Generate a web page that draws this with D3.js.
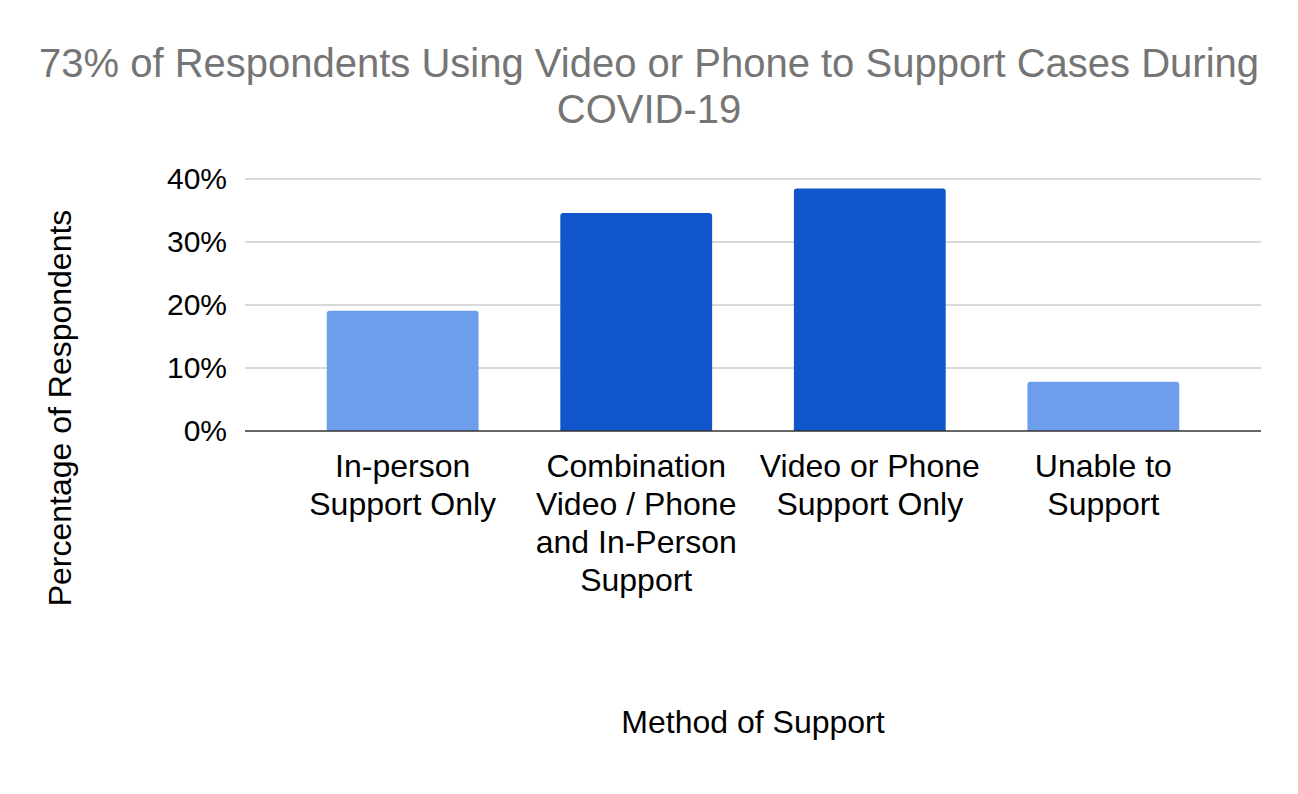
<!DOCTYPE html>
<html>
<head>
<meta charset="utf-8">
<script src="https://cdn.jsdelivr.net/npm/d3@7"></script>
<style>
  body { margin: 0; background: #fff; }
  text { font-family: "Liberation Sans", Arial, sans-serif; }
</style>
</head>
<body>
<div id="chart"></div>
<script>
// chart data
const categories = [
    ["In-person", "Support Only"],
    ["Combination", "Video / Phone", "and In-Person", "Support"],
    ["Video or Phone", "Support Only"],
    ["Unable to", "Support"]
];
const values = [19.1, 34.6, 38.5, 7.8];
const barColors = ["#6d9eeb", "#1155cc", "#1155cc", "#6d9eeb"];
const yTicks = [0, 10, 20, 30, 40];
const titleLines = ["73% of Respondents Using Video or Phone to Support Cases During", "COVID-19"];

const W = 1298, H = 794;
const margin = { top: 179, right: 37, bottom: 363, left: 245 }; // plot area bounds
const width = W - margin.left - margin.right;
const height = H - margin.top - margin.bottom;

const svg = d3.select("#chart").append("svg")
    .attr("width", W)
    .attr("height", H);

// title
svg.append("text")
    .attr("x", 649)
    .attr("y", 77)
    .attr("text-anchor", "middle")
    .attr("fill", "#757575")
    .style("font-size", "40px")
    .selectAll("tspan")
    .data(titleLines)
    .join("tspan")
    .attr("x", 649)
    .attr("dy", (d, i) => i === 0 ? 0 : 46)
    .text(d => d);

const g = svg.append("g")
    .attr("transform", `translate(${margin.left},${margin.top})`);

const x = d3.scaleBand()
    .domain(d3.range(values.length))
    .range([0, width])
    .paddingInner(0.35)
    .paddingOuter(0.35);

const y = d3.scaleLinear()
    .domain([0, 40])
    .range([height, 0]);

// gridlines
g.append("g")
    .selectAll("line")
    .data(yTicks.filter(d => d > 0))
    .join("line")
    .attr("x1", 0)
    .attr("x2", width)
    .attr("y1", d => y(d))
    .attr("y2", d => y(d))
    .attr("stroke", "#cccccc")
    .attr("stroke-width", 1.3);

// y axis labels
const yAxis = g.append("g")
    .call(d3.axisLeft(y).tickValues(yTicks).tickFormat(d => d + "%").tickSize(0).tickPadding(18));
yAxis.select(".domain").remove();
yAxis.selectAll("text")
    .attr("fill", "#000")
    .style("font-size", "30px")
    .style("font-family", "'Liberation Sans', Arial, sans-serif");

// bars with slightly rounded tops
const r = 3;
g.selectAll(".bar")
    .data(values)
    .join("path")
    .attr("class", "bar")
    .attr("fill", (d, i) => barColors[i])
    .attr("d", (d, i) => {
        const x0 = x(i), x1 = x(i) + x.bandwidth();
        const y0 = y(0), y1 = y(d);
        return `M${x0},${y0} L${x0},${y1 + r} Q${x0},${y1} ${x0 + r},${y1} L${x1 - r},${y1} Q${x1},${y1} ${x1},${y1 + r} L${x1},${y0} Z`;
    });

// baseline
g.append("line")
    .attr("x1", 0)
    .attr("x2", width)
    .attr("y1", y(0))
    .attr("y2", y(0))
    .attr("stroke", "#333333")
    .attr("stroke-width", 1.5);

// category labels
const catLabels = g.append("g")
    .selectAll("text")
    .data(categories)
    .join("text")
    .attr("text-anchor", "middle")
    .attr("fill", "#000")
    .style("font-size", "32px")
    .attr("transform", (d, i) => `translate(${x(i) + x.bandwidth() / 2},${height + 46})`);
catLabels.selectAll("tspan")
    .data(d => d)
    .join("tspan")
    .attr("x", 0)
    .attr("y", (d, i) => i * 38)
    .text(d => d);

// x axis title
svg.append("text")
    .attr("x", margin.left + width / 2)
    .attr("y", 733)
    .attr("text-anchor", "middle")
    .attr("fill", "#000")
    .style("font-size", "32px")
    .text("Method of Support");

// y axis title
svg.append("text")
    .attr("transform", "translate(71,408) rotate(-90)")
    .attr("text-anchor", "middle")
    .attr("fill", "#000")
    .style("font-size", "32px")
    .text("Percentage of Respondents");
</script>
</body>
</html>
